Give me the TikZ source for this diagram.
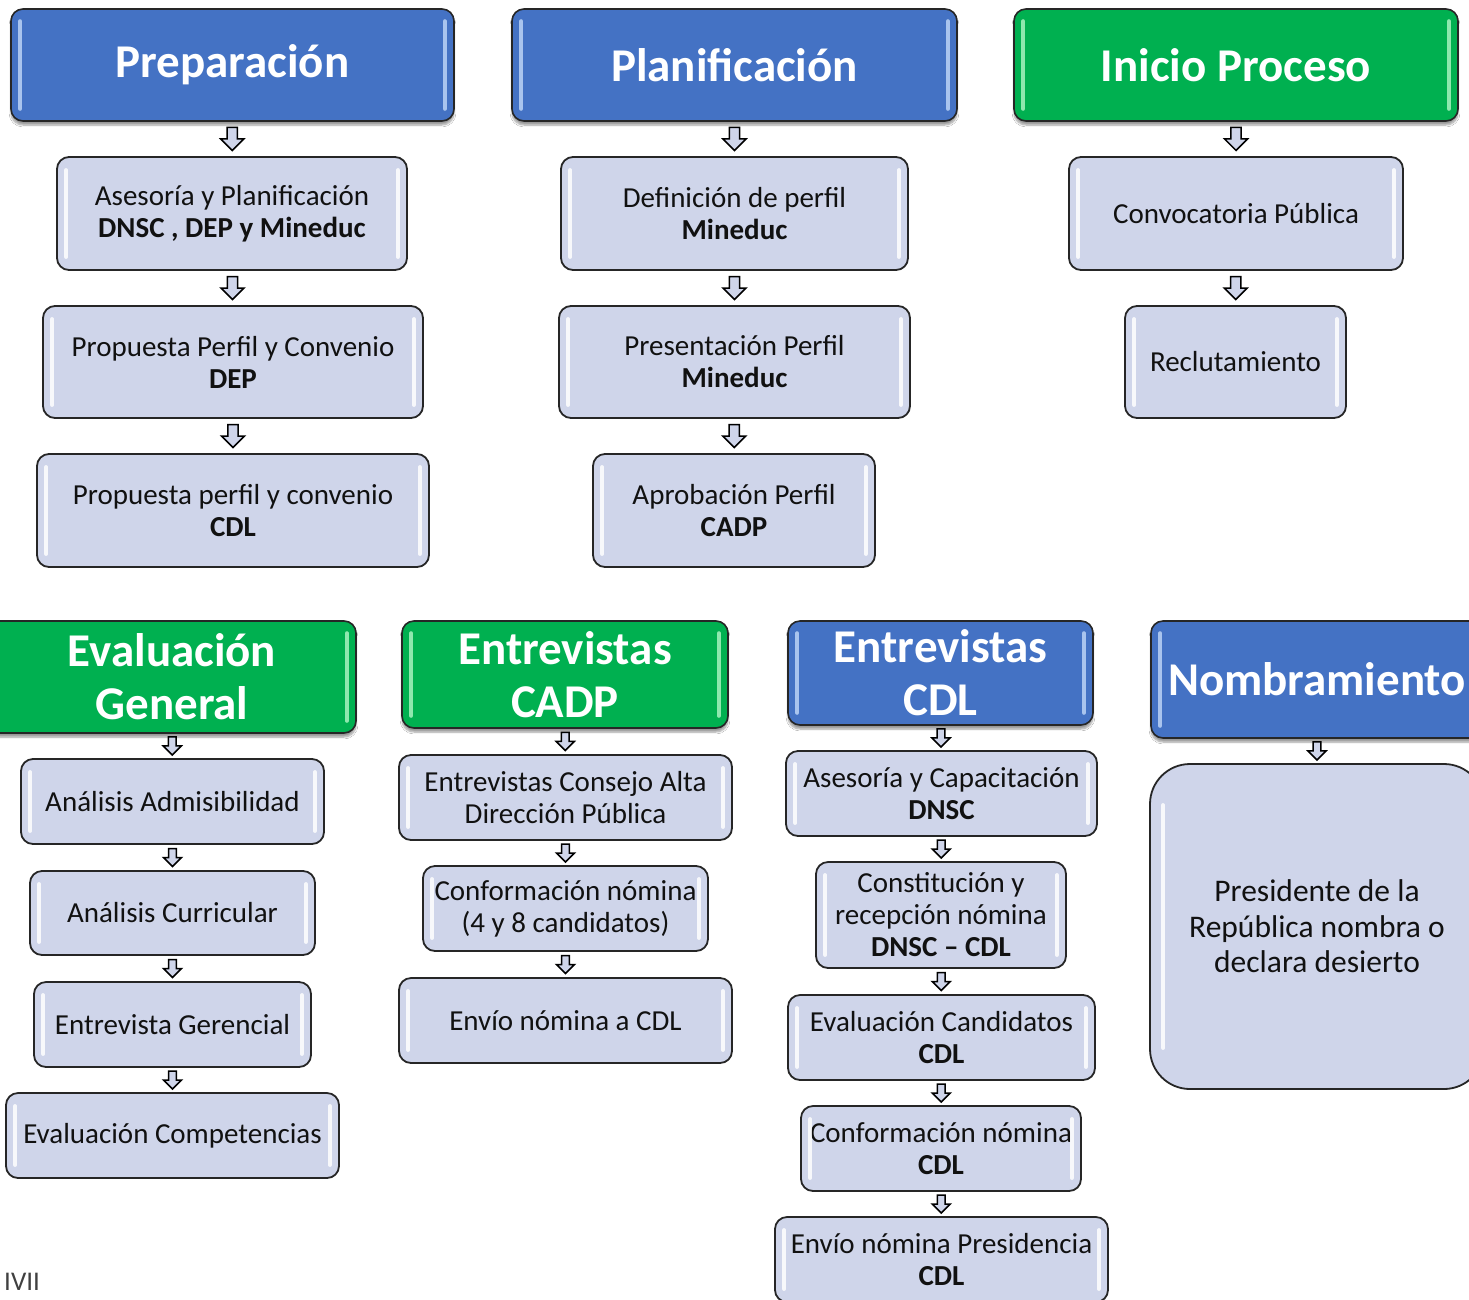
\documentclass[tikz,border=0pt]{standalone}
\usepackage{fontspec}
\setmainfont{Carlito}
\usetikzlibrary{calc,shadows.blur}
\definecolor{hblue}{HTML}{4472C4}
\definecolor{hgreen}{HTML}{00B050}
\definecolor{boxfill}{HTML}{CFD5EA}
\definecolor{glblue}{HTML}{A9C4EE}
\definecolor{glgreen}{HTML}{8EE8AE}
\definecolor{edge}{HTML}{262626}
\definecolor{txt}{HTML}{111111}

\tikzset{
 hdr/.style={draw=edge, line width=1.6pt, rounded corners=12pt, text=white,
   font=\fontsize{47}{53}\selectfont\bfseries, align=center, inner sep=0pt,
   blur shadow={shadow xshift=0pt, shadow yshift=-4pt, shadow blur steps=6, shadow opacity=40}},
 hblu/.style={hdr, fill=hblue},
 hgrn/.style={hdr, fill=hgreen},
 sub/.style={draw=edge, line width=1.8pt, rounded corners=12pt, fill=boxfill, text=txt,
   font=\fontsize{29}{32}\selectfont, align=center, inner sep=0pt},
 big/.style={sub, rounded corners=40pt, font=\fontsize{31.5}{35.5}\selectfont},
 gl/.style={line width=4pt, line cap=round},
 barrow/.style={draw=black, line width=1.5pt, fill=boxfill, line join=miter},
}

\newcommand{\mybox}[7]{\node[#1, minimum width={(#4)-(#3)}, minimum height={(#6)-(#5)}] (#2) at ({((#3)+(#4))/2},{((#5)+(#6))/2}) {#7};}
\newcommand{\glossh}[2]{%
 \draw[gl, draw=#2] ([xshift=10pt,yshift=-13pt]#1.north west) -- ([xshift=10pt,yshift=13pt]#1.south west);
 \draw[gl, draw=#2] ([xshift=-10pt,yshift=-13pt]#1.north east) -- ([xshift=-10pt,yshift=13pt]#1.south east);}
\newcommand{\glosss}[1]{%
 \draw[gl, draw=white, opacity=0.85] ([xshift=10pt,yshift=-14pt]#1.north west) -- ([xshift=10pt,yshift=14pt]#1.south west);
 \draw[gl, draw=white, opacity=0.85] ([xshift=-10pt,yshift=-14pt]#1.north east) -- ([xshift=-10pt,yshift=14pt]#1.south east);}
\newcommand{\barr}[3]{%
 \path (#1.south) -- (#2.north) coordinate[pos=0.5] (mid);
 \draw[barrow, shift={(mid)}, scale=#3] (-0.22,-0.5) -- (0.22,-0.5) -- (0.22,0) -- (0.5,0) -- (0,0.5) -- (-0.5,0) -- (-0.22,0) -- cycle;}

\begin{document}
\begin{tikzpicture}[x=1pt,y=-1pt]
\clip (0,0) rectangle (1469,1299);
\fill[white] (0,0) rectangle (1469,1299);

% ---------- top row ----------
\mybox{hblu}{h1}{11}{454}{9}{121}{Preparación}
\mybox{sub}{a1}{57}{407}{157}{270}{Asesoría y Planificación\\\textbf{DNSC , DEP y Mineduc}}
\mybox{sub}{a2}{43}{423}{306}{418}{Propuesta Perfil y Convenio\\\textbf{DEP}}
\mybox{sub}{a3}{37}{429}{454}{567}{Propuesta perfil y convenio\\\textbf{CDL}}

\mybox{hblu}{h2}{512}{957}{9}{121}{Planificación}
\mybox{sub}{b1}{561}{908}{157}{270}{Definición de perfil\\\textbf{Mineduc}}
\mybox{sub}{b2}{559}{910}{306}{418}{Presentación Perfil\\\textbf{Mineduc}}
\mybox{sub}{b3}{593}{875}{454}{567}{Aprobación Perfil\\\textbf{CADP}}

\mybox{hgrn}{h3}{1014}{1458}{9}{121}{Inicio Proceso}
\mybox{sub}{c1}{1069}{1403}{157}{270}{Convocatoria Pública}
\mybox{sub}{c2}{1125}{1346}{306}{418}{Reclutamiento}

% ---------- bottom row ----------
\mybox{hgrn}{h4}{-12}{356}{621}{733}{Evaluación\\General}
\mybox{sub}{d1}{21}{324}{759}{844}{Análisis Admisibilidad}
\mybox{sub}{d2}{30}{315}{871}{955}{Análisis Curricular}
\mybox{sub}{d3}{34}{311}{982}{1067}{Entrevista Gerencial}
\mybox{sub}{d4}{6}{339}{1093}{1178}{Evaluación Competencias}

\mybox{hgrn}{h5}{402}{728}{621}{728}{Entrevistas\\CADP}
\mybox{sub}{e1}{399}{732}{755}{840}{Entrevistas Consejo Alta\\Dirección Pública}
\mybox{sub}{e2}{423}{708}{866}{951}{Conformación nómina\\(4 y 8 candidatos)}
\mybox{sub}{e3}{399}{732}{978}{1063}{Envío nómina a CDL}

\mybox{hblu}{h6}{788}{1093}{621}{725}{Entrevistas\\CDL}
\mybox{sub}{f1}{786}{1097}{751}{836}{Asesoría y Capacitación\\\textbf{DNSC}}
\mybox{sub}{f2}{816}{1066}{862}{968}{Constitución y\\recepción nómina\\\textbf{DNSC – CDL}}
\mybox{sub}{f3}{788}{1095}{995}{1080}{Evaluación Candidatos\\\textbf{CDL}}
\mybox{sub}{f4}{801}{1081}{1106}{1191}{Conformación nómina\\\textbf{CDL}}
\mybox{sub}{f5}{775}{1108}{1217}{1302}{Envío nómina Presidencia\\\textbf{CDL}}

\mybox{hblu}{h7}{1151}{1483}{621}{738}{Nombramiento}
\mybox{big}{g1}{1150}{1484}{764}{1089}{Presidente de la\\República nombra o\\declara desierto}

% ---------- gloss ----------
\glossh{h1}{glblue}\glossh{h2}{glblue}\glossh{h3}{glgreen}
\glossh{h4}{glgreen}\glossh{h5}{glgreen}\glossh{h6}{glblue}\glossh{h7}{glblue}
\foreach \n in {a1,a2,a3,b1,b2,b3,c1,c2,d1,d2,d3,d4,e1,e2,e3,f1,f2,f3,f4,f5}{\glosss{\n}}
\draw[gl, draw=white, opacity=0.85] ([xshift=14pt,yshift=-42pt]g1.north west) -- ([xshift=14pt,yshift=42pt]g1.south west);

% ---------- arrows ----------
\barr{h1}{a1}{23}\barr{a1}{a2}{23}\barr{a2}{a3}{23}
\barr{h2}{b1}{23}\barr{b1}{b2}{23}\barr{b2}{b3}{23}
\barr{h3}{c1}{23}\barr{c1}{c2}{23}
\barr{h4}{d1}{18}\barr{d1}{d2}{18}\barr{d2}{d3}{18}\barr{d3}{d4}{18}
\barr{h5}{e1}{18}\barr{e1}{e2}{18}\barr{e2}{e3}{18}
\barr{h6}{f1}{18}\barr{f1}{f2}{18}\barr{f2}{f3}{18}\barr{f3}{f4}{18}\barr{f4}{f5}{18}
\barr{h7}{g1}{18}

% ---------- stray footer text ----------
\node[anchor=base west, inner sep=0pt, text=black!75, font=\fontsize{27}{27}\selectfont] (foot) at (4,1290) {IVII};
\end{tikzpicture}
\end{document}
